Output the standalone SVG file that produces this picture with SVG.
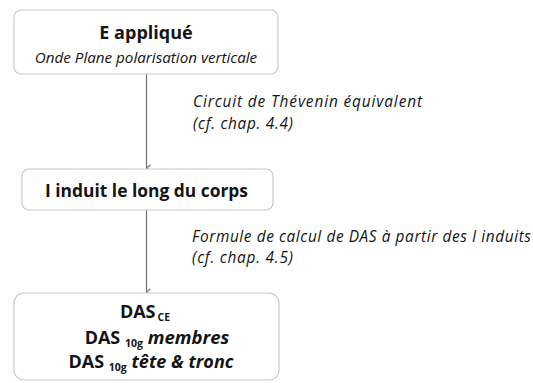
<svg xmlns="http://www.w3.org/2000/svg" width="533" height="383" viewBox="0 0 533 383">
<style>
.box{fill:#fff;stroke:#c8c8c8;stroke-width:1.2}
.t{font-family:"Open Sans","Liberation Sans",sans-serif;fill:#141414}
.b{font-weight:bold}
.i{font-style:italic}
.l{font-size:15.4px;font-style:italic}
.c{stroke:#6e6e6e;stroke-width:1.2;fill:none}
</style>
<defs>
<marker id="ah" viewBox="0 0 10 10" refX="5" refY="9" markerWidth="8" markerHeight="8" markerUnits="userSpaceOnUse" orient="auto-start-reverse">
<path d="M1,4 L5,9 L9,4" fill="none" stroke="#6e6e6e" stroke-width="1.4"/>
</marker>
</defs>
<rect width="533" height="383" fill="#fff"/>
<g id="connectors">
<line class="c" x1="146.5" y1="74" x2="146.5" y2="168" marker-end="url(#ah)"/>
<line class="c" x1="146.5" y1="210" x2="146.5" y2="292" marker-end="url(#ah)"/>
<text class="t l" x="193" y="107" textLength="229" lengthAdjust="spacing">Circuit de Thévenin équivalent</text>
<text class="t l" x="193" y="128.5" textLength="100" lengthAdjust="spacing">(cf. chap. 4.4)</text>
<text class="t l" x="192" y="241.5" textLength="339" lengthAdjust="spacing">Formule de calcul de DAS à partir des I induits</text>
<text class="t l" x="192" y="263" textLength="101" lengthAdjust="spacing">(cf. chap. 4.5)</text>
</g>
<g id="n1">
<rect class="box" x="14" y="10" width="264" height="64" rx="7"/>
<text class="t b" x="146" y="39" font-size="18" text-anchor="middle">E appliqué</text>
<text class="t i" x="146" y="63" font-size="15.2" text-anchor="middle">Onde Plane polarisation verticale</text>
</g>
<g id="n2">
<rect class="box" x="22" y="169" width="251" height="41" rx="7"/>
<text class="t b" x="146.5" y="197" font-size="17.4" text-anchor="middle">I induit le long du corps</text>
</g>
<g id="n3">
<rect class="box" x="14" y="293" width="265" height="87" rx="10"/>
<text class="t b" x="145" y="318" font-size="18" text-anchor="middle">DAS<tspan font-size="10.5" dx="2" dy="3">CE</tspan></text>
<text class="t b" x="157" y="344" font-size="18" text-anchor="middle">DAS <tspan font-size="10.5" dy="3">10g</tspan><tspan class="i" dy="-3" font-size="18.5"> membres</tspan></text>
<text class="t b" x="151" y="368" font-size="18" text-anchor="middle">DAS <tspan font-size="10.5" dy="3">10g</tspan><tspan class="i" dy="-3"> tête &amp; tronc</tspan></text>
</g>
</svg>
